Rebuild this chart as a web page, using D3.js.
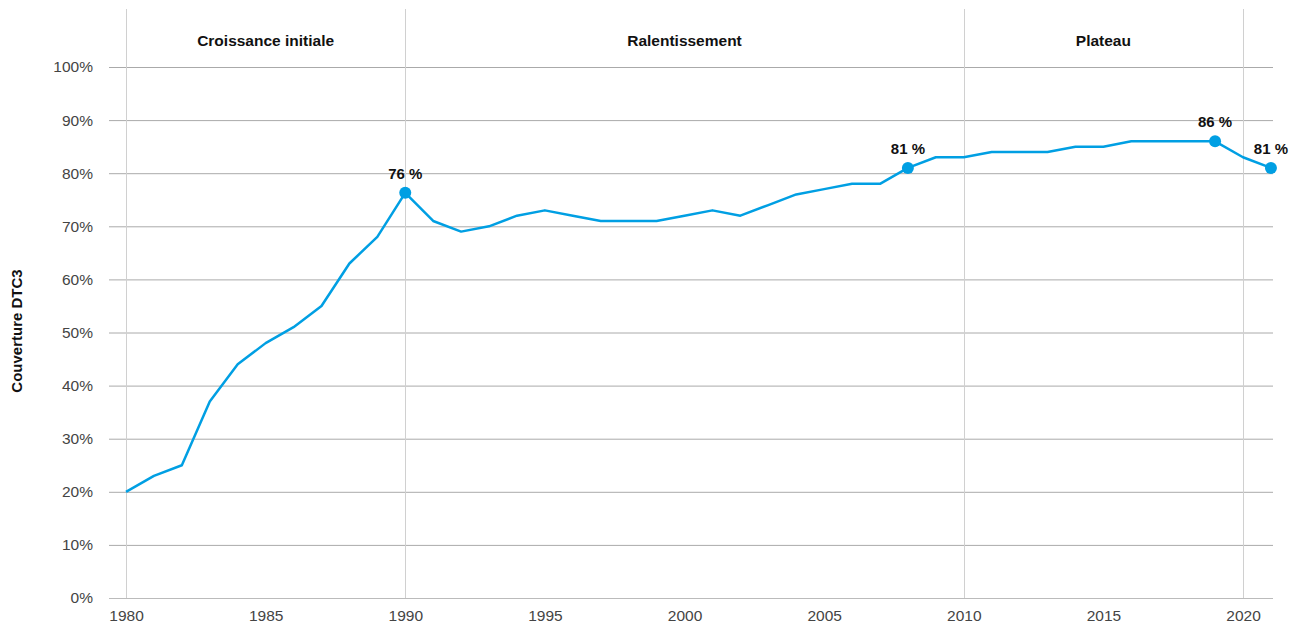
<!DOCTYPE html>
<meta charset="utf-8">
<script src="https://cdn.jsdelivr.net/npm/d3@7"></script>
<style>
  body { margin: 0; background: #fff; }
  svg { font-family: "Liberation Sans", Arial, sans-serif; }
</style>
<svg width="1301" height="628"></svg>
<script>
// DTC3 coverage
var years = [1980, 1981, 1982, 1983, 1984, 1985, 1986, 1987, 1988, 1989, 1990,
  1991, 1992, 1993, 1994, 1995, 1996, 1997, 1998, 1999, 2000,
  2001, 2002, 2003, 2004, 2005, 2006, 2007, 2008, 2009, 2010,
  2011, 2012, 2013, 2014, 2015, 2016, 2017, 2018, 2019, 2020, 2021];
var coverage = [20, 23, 25, 37, 44, 48, 51, 55, 63, 68, 76.3,
  71, 69, 70, 72, 73, 72, 71, 71, 71, 72,
  73, 72, 74, 76, 77, 78, 78, 81, 83, 83,
  84, 84, 84, 85, 85, 86, 86, 86, 86, 83, 81];

var highlights = [
  { year: 1990, label: "76 %" },
  { year: 2008, label: "81 %" },
  { year: 2019, label: "86 %" },
  { year: 2021, label: "81 %" }
];

var periods = [
  { from: 1980, to: 1990, name: "Croissance initiale" },
  { from: 1990, to: 2010, name: "Ralentissement" },
  { from: 2010, to: 2020, name: "Plateau" }
];
var periodBounds = [1980, 1990, 2010, 2020];

var yTicks = [0, 10, 20, 30, 40, 50, 60, 70, 80, 90, 100];
var xTicks = [1980, 1985, 1990, 1995, 2000, 2005, 2010, 2015, 2020];

var data = years.map(function(y, i) { return { year: y, value: coverage[i] }; });

var svg = d3.select("svg");
var left = 109, right = 1273;

var x = d3.scaleLinear().domain([1980, 2020]).range([126, 1243]);
var y = d3.scaleLinear().domain([0, 100]).range([598, 67]);

// horizontal grid
svg.append("g")
  .selectAll("line")
  .data(yTicks)
  .enter()
  .append("line")
  .attr("x1", left)
  .attr("x2", right)
  .attr("y1", function(d) { return y(d) + 0.5; })
  .attr("y2", function(d) { return y(d) + 0.5; })
  .attr("stroke", function(d) { return d === 0 ? "#bbb" : "#aaa"; })
  .attr("stroke-width", 1);

// period separators
svg.append("g")
  .selectAll("line")
  .data(periodBounds)
  .enter()
  .append("line")
  .attr("x1", function(d) { return Math.round(x(d)) + 0.5; })
  .attr("x2", function(d) { return Math.round(x(d)) + 0.5; })
  .attr("y1", 9)
  .attr("y2", y(0))
  .attr("stroke", "#d0d0d0")
  .attr("stroke-width", 1);

// period labels
svg.append("g")
  .selectAll("text")
  .data(periods)
  .enter()
  .append("text")
  .attr("x", function(d) { return (x(d.from) + x(d.to)) / 2; })
  .attr("y", 46)
  .attr("text-anchor", "middle")
  .attr("font-size", 15.5)
  .attr("font-weight", "bold")
  .attr("fill", "#111")
  .text(function(d) { return d.name; });

// y axis
var yAxis = svg.append("g")
  .attr("transform", "translate(" + (left - 16) + ",0)")
  .call(d3.axisLeft(y).tickValues(yTicks).tickSize(0).tickPadding(0)
    .tickFormat(function(d) { return d + "%"; }));
yAxis.select(".domain").remove();
yAxis.selectAll("text")
  .attr("font-size", 15.5)
  .attr("fill", "#444")
  .attr("font-family", "Liberation Sans, Arial, sans-serif");

// x axis
var xAxis = svg.append("g")
  .attr("transform", "translate(0," + (y(0) + 12) + ")")
  .call(d3.axisBottom(x).tickValues(xTicks).tickSize(0).tickPadding(0)
    .tickFormat(d3.format("d")));
xAxis.select(".domain").remove();
xAxis.selectAll("text")
  .attr("font-size", 15.5)
  .attr("fill", "#444")
  .attr("font-family", "Liberation Sans, Arial, sans-serif");

// y axis label
svg.append("text")
  .attr("transform", "translate(22," + 331 + ") rotate(-90)")
  .attr("text-anchor", "middle")
  .attr("font-size", 15)
  .attr("font-weight", "bold")
  .attr("fill", "#111")
  .text("Couverture DTC3");

// line
svg.append("path")
  .datum(data)
  .attr("fill", "none")
  .attr("stroke", "#009fe3")
  .attr("stroke-width", 2.5)
  .attr("stroke-linejoin", "round")
  .attr("d", d3.line()
    .x(function(d) { return x(d.year); })
    .y(function(d) { return y(d.value); }));

// highlighted points
var hl = highlights.map(function(h) {
  return { year: h.year, label: h.label, value: coverage[years.indexOf(h.year)] };
});

svg.append("g")
  .selectAll("circle")
  .data(hl)
  .enter()
  .append("circle")
  .attr("cx", function(d) { return x(d.year); })
  .attr("cy", function(d) { return y(d.value); })
  .attr("r", 6)
  .attr("fill", "#009fe3");

svg.append("g")
  .selectAll("text")
  .data(hl)
  .enter()
  .append("text")
  .attr("x", function(d) { return x(d.year); })
  .attr("y", function(d) { return y(d.value) - 14; })
  .attr("text-anchor", "middle")
  .attr("font-size", 15)
  .attr("font-weight", "bold")
  .attr("fill", "#111")
  .text(function(d) { return d.label; });
</script>
